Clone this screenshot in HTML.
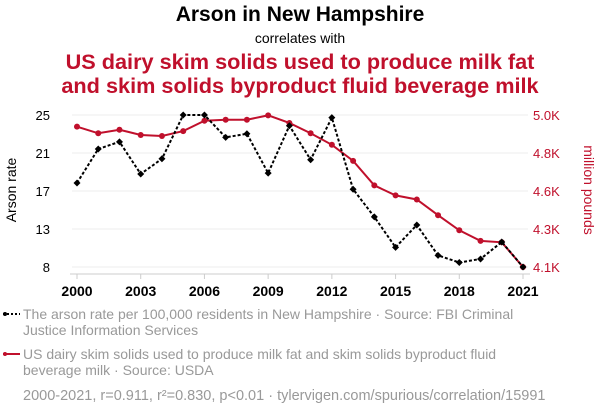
<!DOCTYPE html>
<html><head><meta charset="utf-8"><style>
body{margin:0;background:#fff;width:600px;height:414px;overflow:hidden;font-family:"Liberation Sans",sans-serif}
svg{display:block}
</style></head><body>
<svg id="c" width="600" height="414" xmlns="http://www.w3.org/2000/svg">
<text x="300" y="21" text-anchor="middle" font-size="21" font-weight="bold" fill="#000">Arson in New Hampshire</text>
<text x="300" y="43" text-anchor="middle" font-size="14" fill="#000">correlates with</text>
<text x="300" y="69" text-anchor="middle" font-size="21.7" font-weight="bold" fill="#c0102c">US dairy skim solids used to produce milk fat</text>
<text x="300" y="93" text-anchor="middle" font-size="21.7" font-weight="bold" fill="#c0102c">and skim solids byproduct fluid beverage milk</text>
<g id="grid"></g>
<g id="axes"></g>
<g id="series"></g>
<text transform="translate(16,190) rotate(-90)" text-anchor="middle" font-size="14" fill="#000">Arson rate</text>
<text transform="translate(584,190) rotate(90)" text-anchor="middle" font-size="14" fill="#c0102c">million pounds</text>
<g>
<line x1="3" y1="314" x2="20" y2="314" stroke="#000" stroke-width="2" stroke-dasharray="2,2"/>
<circle cx="5" cy="314" r="2" fill="#000"/>
<text x="23" y="319" font-size="14" fill="#999">The arson rate per 100,000 residents in New Hampshire · Source: FBI Criminal</text>
<text x="23" y="335" font-size="14" fill="#999">Justice Information Services</text>
</g>
<g>
<line x1="3" y1="354" x2="20" y2="354" stroke="#c0102c" stroke-width="2"/>
<circle cx="5" cy="354" r="2" fill="#c0102c"/>
<text x="23" y="359" font-size="14" fill="#999">US dairy skim solids used to produce milk fat and skim solids byproduct fluid</text>
<text x="23" y="375" font-size="14" fill="#999">beverage milk · Source: USDA</text>
</g>
<text x="23" y="400" font-size="14.5" fill="#999">2000-2021, r=0.911, r²=0.830, p&lt;0.01 · tylervigen.com/spurious/correlation/15991</text>
</svg>
<script>
const years=[2000,2001,2002,2003,2004,2005,2006,2007,2008,2009,2010,2011,2012,2013,2014,2015,2016,2017,2018,2019,2020,2021];
const arson=[17.4,21.2,22.0,18.4,20.1,25,25,22.5,22.9,18.5,23.8,20.0,24.7,16.7,13.6,10.2,12.7,9.3,8.5,8.9,10.8,8.0];
const dairy=[4931,4892,4913,4882,4876,4905,4966,4972,4972,4998,4953,4892,4824,4729,4584,4525,4501,4408,4319,4256,4248,4102];
const xTicks=[2000,2003,2006,2009,2012,2015,2018,2021];
const leftTickLabels=["25","21","17","13","8"];
const rightTickLabels=["5.0K","4.8K","4.6K","4.3K","4.1K"];
const NS="http://www.w3.org/2000/svg";
const X0=77,X1=523,Y0=115,Y1=267;
const xs=y=>X0+(y-2000)/(2021-2000)*(X1-X0);
const yl=v=>Y1-(v-8)/(25-8)*(Y1-Y0);
const yr=v=>Y1-(v-4102)/(5000-4102)*(Y1-Y0);
function mk(tag,attrs,parent){const e=document.createElementNS(NS,tag);for(const k in attrs)e.setAttribute(k,attrs[k]);parent.appendChild(e);return e;}
const grid=document.getElementById('grid'),axes=document.getElementById('axes'),ser=document.getElementById('series');
leftTickLabels.forEach((l,i)=>{const y=Y0+i*(Y1-Y0)/(leftTickLabels.length-1);
 const g=mk('line',{x1:X0-5,x2:X1+5,y1:y,y2:y,stroke:'#eee','stroke-width':1},grid);
 
 
 const t=mk('text',{x:50,y:y+5,'text-anchor':'end','font-size':13,fill:'#000'},axes);t.textContent=l;
 
 
 const r=mk('text',{x:533,y:y+5,'font-size':13,fill:'#c0102c'},axes);r.textContent=rightTickLabels[i];
 
 
});
const base=mk('line',{x1:X0-7,x2:X1+7,y1:274,y2:274,stroke:'#ccc','stroke-width':1},axes);


xTicks.forEach(yr_=>{const x=xs(yr_);
 const tk=mk('line',{x1:x,x2:x,y1:274,y2:279,stroke:'#ccc'},axes);
 
 
 const t=mk('text',{x:x,y:296,'text-anchor':'middle','font-size':14,'font-weight':'bold',fill:'#000'},axes);t.textContent=yr_;
 
 
});
const rp=mk('polyline',{points:years.map((y,i)=>xs(y)+','+yr(dairy[i])).join(' '),fill:'none',stroke:'#c0102c','stroke-width':2},ser);


years.forEach((y,i)=>{const c=mk('circle',{cx:xs(y),cy:yr(dairy[i]),r:3,fill:'#c0102c'},ser);
 
 });
const bp=mk('polyline',{points:years.map((y,i)=>xs(y)+','+yl(arson[i])).join(' '),fill:'none',stroke:'#000','stroke-width':2,'stroke-dasharray':'3,2'},ser);


years.forEach((y,i)=>{const x=xs(y),yy=yl(arson[i]);
 const d=mk('polygon',{points:`${x},${yy-3.5} ${x+3.5},${yy} ${x},${yy+3.5} ${x-3.5},${yy}`,fill:'#000'},ser);
 
 });
</script>
</body></html>
